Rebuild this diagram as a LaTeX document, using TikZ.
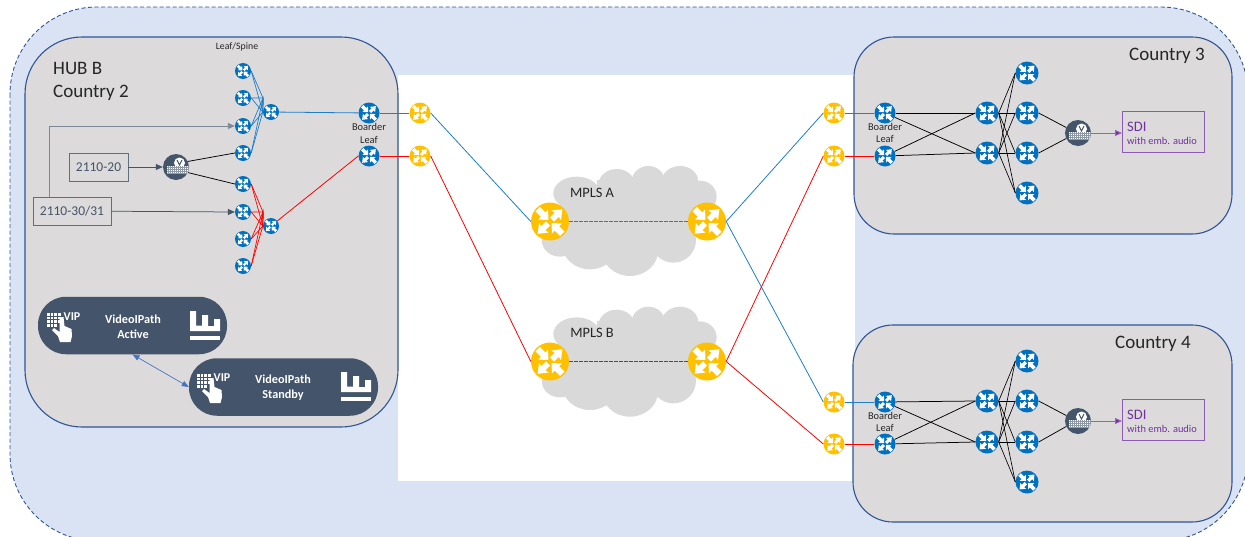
\documentclass[tikz,border=0pt]{standalone}
\usepackage{fontspec}
\setmainfont{Carlito}
\usetikzlibrary{arrows.meta,calc}
\definecolor{bgblue}{HTML}{DAE3F3}
\definecolor{boxgrey}{HTML}{DCDADA}
\definecolor{edge}{HTML}{2F5597}
\definecolor{slate}{HTML}{44546A}
\definecolor{rblue}{HTML}{0070C0}
\definecolor{ryellow}{HTML}{FFC000}
\definecolor{lblue}{HTML}{1B7FCC}
\definecolor{purp}{HTML}{7030A0}
\definecolor{cloudgrey}{HTML}{D9D9D9}
\definecolor{linkblue}{HTML}{4472C4}
% one white arrow of a router icon, radius 1, pointing outwards or inwards
\newcommand{\routerarrows}[1]{%
  \foreach \a/\b in {45/135,225/315}{
    \fill[white,shift={(path picture bounding box.center)},x={(\a:#1pt)},y={(\b:#1pt)}]
      (.14,-.15)--(.50,-.15)--(.46,-.36)--(.92,0)--(.46,.36)--(.50,.15)--(.14,.15)--cycle;}
  \foreach \a/\b in {135/225,315/45}{
    \fill[white,shift={(path picture bounding box.center)},x={(\a:#1pt)},y={(\b:#1pt)}]
      (.92,-.16)--(.52,-.16)--(.52,-.38)--(.12,0)--(.52,.38)--(.52,.16)--(.92,.16)--cycle;}}
\tikzset{
  x=1pt,y=-1pt,
  rtr/.style n args={2}{circle,fill=#1,draw=none,inner sep=0pt,minimum size=#2*2pt,
    path picture={\routerarrows{#2}}},
  leafb/.style={rtr={rblue}{8}},
  borderb/.style={rtr={rblue}{10.5}},
  bigb/.style={rtr={rblue}{11.5}},
  yel/.style={rtr={ryellow}{10.5}},
  bigy/.style={rtr={ryellow}{19}},
  enc/.style={circle,fill=slate,inner sep=0pt,minimum size=26pt,
    path picture={
      \begin{scope}[shift={(path picture bounding box.center)}]
        \fill[white] (3.5,-4) circle (5.5pt);
        \fill[white] (-9,-1) rectangle (13,7);
        \draw[slate!60,line width=.3pt,step=2pt] (-9,-1) grid (13,7);
        \draw[slate,line width=1pt] (1,-7)--(3.5,-2)--(6,-7);
      \end{scope}}},
  region/.style={draw=edge,line width=1.1pt,fill=boxgrey},
  pill/.style={rounded corners=28pt,fill=slate,draw=none,minimum width=189pt,minimum height=57.5pt},
  lbl/.style={font=\fontsize{#1}{#1}\selectfont,inner sep=0pt,text=black!85},
  srcbox/.style={draw=slate!85,line width=.9pt,fill=boxgrey,text=slate,font=\fontsize{13.5}{13.5}\selectfont,inner sep=0pt},
  bl/.style={lblue,line width=.8pt},
  rd/.style={red,line width=.8pt},
  blk/.style={black,line width=.75pt},
  tip/.style={-{Triangle[length=7pt,width=6pt]}},
  grarrow/.style={slate,line width=.75pt,tip},
  viptext/.style={white,font=\fontsize{12.2}{15}\selectfont\bfseries,align=center,inner sep=0pt},
}
\newcommand{\mplscloud}[2]{%
  \begin{scope}[shift={(#1,#2)},x=.3333pt,y=-.3333pt]
    \fill[cloudgrey] (200,130) ellipse [x radius=70,y radius=50];
    \fill[cloudgrey] (320,105) ellipse [x radius=55,y radius=48];
    \fill[cloudgrey] (415,95) ellipse [x radius=50,y radius=47];
    \fill[cloudgrey] (510,95) ellipse [x radius=55,y radius=47];
    \fill[cloudgrey] (570,140) ellipse [x radius=50,y radius=48];
    \fill[cloudgrey] (490,270) ellipse [x radius=68,y radius=68];
    \fill[cloudgrey] (360,300) ellipse [x radius=85,y radius=78];
    \fill[cloudgrey] (240,280) ellipse [x radius=85,y radius=78];
    \fill[cloudgrey] (150,270) ellipse [x radius=55,y radius=50];
    \fill[cloudgrey] (150,130) rectangle (555,290);
    \fill[cloudgrey] (260,90) rectangle (540,130);
  \end{scope}}
\newcommand{\vipicon}[2]{%
  \begin{scope}[shift={(#1,#2)}]
    \foreach \i in {0,1,2,3}{\foreach \j in {0,1,2,3}{
      \ifnum\numexpr\i*\j\relax<9
      \fill[white] (\i*3.6,\j*3.6) rectangle ++(2.8,2.8);\fi}}
    \fill[white] (12.5,4) -- (16.5,4) -- (17.5,13) -- (24.5,16) -- (25,23) -- (23.5,29) -- (13,29) -- (11,23) -- (5,17) -- (7,15) -- (12.5,19) -- cycle;
    \node[white,font=\fontsize{12}{12}\selectfont\bfseries,inner sep=0pt,anchor=west] at (16.5,4) {VIP};
  \end{scope}}
\newcommand{\charticon}[2]{%
  \begin{scope}[shift={(#1,#2)}]
    \fill[white] (0,0)--(6,0)--(6,14.5)--(12,14.5)--(12,4)--(18,4)--(18,15)--(24,15)--(24,8)--(30,8)--(30,20)--(0,20)--cycle;
    \fill[white] (0,24.5) rectangle (30,29);
  \end{scope}}
\begin{document}
\begin{tikzpicture}
\useasboundingbox (0,0) rectangle (1245,536);
\clip (0,0) rectangle (1245,536);
% backdrop
\draw[fill=bgblue,draw=edge,dash pattern=on 4pt off 2.5pt,line width=.9pt,rounded corners=87pt] (10,7) rectangle (1248,541);
\fill[white] (398,75) rectangle (855,481);
% regions
\draw[region,rounded corners=57pt] (25,37) rectangle (398,427);
\draw[region,rounded corners=40pt] (854,37) rectangle (1232,234);
\draw[region,rounded corners=40pt] (853,325) rectangle (1232,522);
% clouds
\mplscloud{510}{150}
\mplscloud{510}{290.7}
% --- hub B nodes
\foreach \n/\y in {1/71,2/98,3/126,4/153,5/184,6/212,7/239,8/266}
  \node[leafb] (L\n) at (243,\y) {};
\node[leafb] (S1) at (271,112) {};
\node[leafb] (S2) at (271,226) {};
\node[borderb] (B1) at (369,113) {};
\node[borderb] (B2) at (369,156) {};
\node[yel] (Y1) at (420,113) {};
\node[yel] (Y2) at (420,156) {};
\node[enc] (E0) at (176,167) {};
\node[srcbox,minimum width=59pt,minimum height=28pt] (S20) at (98.5,167) {2110-20};
\node[srcbox,minimum width=78pt,minimum height=28pt] (S30) at (72,211) {2110-30/31};
\coordinate (K1) at (263,98);
\coordinate (K2) at (263,212);
\coordinate (G0) at (49,197);
\coordinate (G1) at (49,126);
% fan-in
\foreach \n in {1,2,3,4}{
  \draw[bl,line width=.7pt] (L\n.east) -- (K1) -- (S1.west);
  \draw[bl,line width=.7pt] (L\n.east) -- (S1.west);}
\foreach \n in {5,6,7,8}{
  \draw[rd,line width=.7pt] (L\n.east) -- (K2) -- (S2.west);
  \draw[rd,line width=.7pt] (L\n.east) -- (S2.west);}
\draw[bl] (S1) -- (B1);
\draw[bl] (B1) -- (Y1);
\draw[rd] (S2) -- (B2.west);
\draw[rd] (B2) -- (Y2);
\draw[blk] (E0.25) -- (L4.west);
\draw[blk] (E0.-25) -- (L5.west);
\draw[grarrow] (S20) -- (E0);
\draw[grarrow] (S30) -- (L6.west);
\draw[slate!70,line width=.9pt,tip] (G0) -- (G1) -- (L3.west);
\node[lbl=9.8] (tLS) at (237,47) {Leaf/Spine};
\node[lbl=19,anchor=west] (tH) at (53,68.5) {HUB B};
\node[lbl=19,anchor=west] (tC2) at (53,92.5) {Country 2};
\node[lbl=10.4] (tB0a) at (369,127) {Boarder};
\node[lbl=10.4] (tB0b) at (369,139.5) {Leaf};
% VideoIPath
\node[pill] (PA) at (132.5,325.5) {};
\node[pill] (PS) at (283.5,387) {};
\node[viptext] (tA) at (133,326.5) {VideoIPath\\Active};
\node[viptext] (tS) at (283,387.5) {VideoIPath\\Standby};
\vipicon{47}{313}
\vipicon{197}{374}
\charticon{190}{311}
\charticon{341}{372}
\draw[{Triangle[length=7pt,width=5.5pt]}-{Triangle[length=7pt,width=5.5pt]},draw=linkblue,fill=linkblue,line width=.6pt] (PA.south) -- (PS.west);
% --- MPLS
\node[bigy] (MA1) at (550,221.5) {};
\node[bigy] (MA2) at (707,221.5) {};
\node[bigy] (MB1) at (550,361.5) {};
\node[bigy] (MB2) at (707,361.5) {};
\node[lbl=14.4] (tMA) at (592,193) {MPLS A};
\node[lbl=14.4] (tMB) at (592,333) {MPLS B};
\draw[draw=lblue,line width=1pt,dash pattern=on 3.5pt off 1.5pt] (MA1.east) -- (MA2.west);
\draw[draw=red,line width=1pt,dash pattern=on 3.5pt off 1.5pt] (MB1.east) -- (MB2.west);
% --- countries
\foreach \c/\ya/\yb/\sa/\sb/\la/\lb/\lc/\ld/\ev/\sy in
  {3/113/156/113/153/73/113/153/193/133/111, 4/402/444/401/442/361/401/442/482/421/399}{
  \node[yel] (Y\c a) at (834,\ya) {};
  \node[yel] (Y\c b) at (834,\yb) {};
  \node[borderb] (B\c a) at (885,\ya) {};
  \node[borderb] (B\c b) at (885,\yb) {};
  \node[bigb] (S\c a) at (987,\sa) {};
  \node[bigb] (S\c b) at (987,\sb) {};
  \node[bigb] (L\c a) at (1027,\la) {};
  \node[bigb] (L\c b) at (1027,\lb) {};
  \node[bigb] (L\c c) at (1027,\lc) {};
  \node[bigb] (L\c d) at (1027,\ld) {};
  \node[enc] (E\c) at (1078,\ev) {};
  \node[draw=purp!80,line width=.9pt,minimum width=82pt,minimum height=41pt,inner sep=0pt,anchor=north west] (D\c) at (1122,\sy) {};
  \node[lbl=14.5,anchor=west,text=purp] (tD\c) at (1127,\sy+15.5) {SDI};
  \node[lbl=10.4,anchor=west,text=purp] (tW\c) at (1127,\sy+29.5) {with emb. audio};
  \draw[bl] (Y\c a) -- (B\c a);
  \draw[rd] (Y\c b) -- (B\c b);
  \draw[blk] (B\c a) -- (S\c a.west);
  \draw[blk] (B\c a) -- (S\c b.west);
  \draw[blk] (B\c b) -- (S\c a.west);
  \draw[blk] (B\c b) -- (S\c b.west);
  \foreach \s in {a,b}{\foreach \l in {a,b,c,d}{
    \draw[blk,line width=.65pt] (S\c\s.east) -- (L\c\l.west);}}
  \draw[blk] (L\c b.east) -- (E\c.155);
  \draw[blk] (L\c c.east) -- (E\c.205);
  \draw[purp!75,line width=.9pt,-{Triangle[length=7pt,width=6pt,fill=purp]}] (E\c) -- (D\c.west |- E\c);
  \node[lbl=10.4] (tBa\c) at (885,\ya+13.5) {Boarder};
  \node[lbl=10.4] (tBb\c) at (885,\ya+26) {Leaf};
}
\node[lbl=19] (tC3) at (1167,56) {Country 3};
\node[lbl=19] (tC4) at (1153,344) {Country 4};
% --- WAN links
\draw[bl] (Y1.east) -- (MA1.west);
\draw[rd] (Y2.east) -- (MB1.west);
\draw[bl] (MA2.east) -- (Y3a.west);
\draw[bl] (MA2.east) -- (Y4a.west);
\draw[rd] (MB2.east) -- (Y3b.west);
\draw[rd] (MB2.east) -- (Y4b.west);
\end{tikzpicture}
\end{document}
